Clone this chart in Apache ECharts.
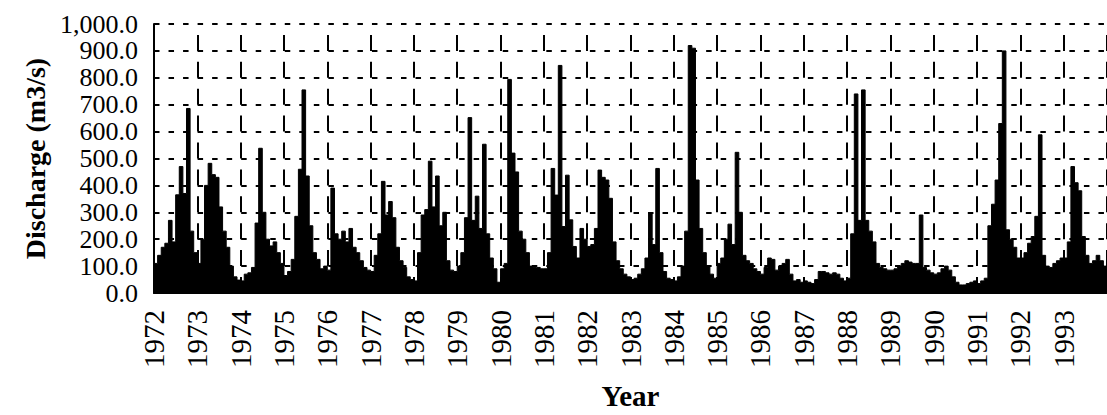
<!DOCTYPE html>
<html><head><meta charset="utf-8">
<script src="https://cdn.jsdelivr.net/npm/echarts@6/dist/echarts.min.js"></script>
<style>html,body{margin:0;padding:0;background:#fff}#c{width:1107px;height:415px}</style>
</head><body><div id="c"></div>
<script>
// Monthly discharge (m3/s), Jan..Dec
const years = [1972,1973,1974,1975,1976,1977,1978,1979,1980,1981,1982,1983,1984,1985,1986,1987,1988,1989,1990,1991,1992,1993];
const d1972 = [110,140,170,185,270,190,365,470,370,686,230,150];
const d1973 = [110,200,400,482,440,430,320,230,170,100,60,48];
const d1974 = [45,70,75,95,260,538,300,200,175,190,150,110];
const d1975 = [65,80,125,285,460,755,435,250,150,125,90,100];
const d1976 = [85,390,220,200,230,190,240,170,150,120,95,85];
const d1977 = [80,140,220,415,290,340,280,170,120,95,60,50];
const d1978 = [45,150,290,310,490,320,435,250,300,120,85,80];
const d1979 = [100,150,280,652,270,360,240,553,220,130,90,40];
const d1980 = [90,110,794,520,450,230,200,150,100,95,95,90];
const d1981 = [90,150,463,364,846,247,438,272,173,130,240,200];
const d1982 = [173,180,240,457,430,420,352,190,120,90,70,60];
const d1983 = [50,55,70,90,130,296,180,463,150,80,55,50];
const d1984 = [45,60,100,230,920,910,420,240,150,100,70,55];
const d1985 = [110,130,200,256,180,523,300,140,120,110,90,80];
const d1986 = [70,95,130,125,85,100,110,125,70,45,50,40];
const d1987 = [45,40,35,50,80,80,75,70,75,70,55,45];
const d1988 = [55,220,740,270,755,270,230,190,110,95,90,85];
const d1989 = [85,90,100,110,120,115,110,110,290,95,85,75];
const d1990 = [70,75,90,100,85,60,40,30,30,35,40,45];
const d1991 = [35,45,55,250,330,420,630,900,235,200,170,130];
const d1992 = [130,150,185,210,285,588,140,100,95,110,120,130];
const d1993 = [130,190,470,410,380,210,140,110,120,140,120,100];
const monthly = [d1972,d1973,d1974,d1975,d1976,d1977,d1978,d1979,d1980,d1981,d1982,d1983,d1984,d1985,d1986,d1987,d1988,d1989,d1990,d1991,d1992,d1993];
const yTicks = [0,100,200,300,400,500,600,700,800,900,1000];

const points = [];
monthly.forEach((arr, i) => arr.forEach((v, m) => points.push([years[i] + m / 12, v])));
points.push([years[years.length - 1] + 1, monthly[monthly.length - 1][11]]);

const serif = 'Liberation Serif';
function fmt(v){ const s = v.toFixed(1); const [a,b] = s.split('.'); return a.replace(/\B(?=(\d{3})+(?!\d))/g, ',') + '.' + b; }

const chart = echarts.init(document.getElementById('c'), null, {renderer:'svg'});
chart.setOption({
  animation: false,
  backgroundColor: '#fff',
  grid: {left: 154, right: -7, top: 24, bottom: 122, containLabel: false},
  xAxis: {
    type: 'value', min: years[0], max: years[years.length-1] + 1, interval: 1,
    axisLine: {show: true, lineStyle: {color: '#000', width: 2}},
    axisTick: {show: false},
    axisLabel: {rotate: 90, margin: 17, color: '#000', fontFamily: serif, fontSize: 29,
      formatter: v => years.indexOf(v) >= 0 ? String(v) : ''},
    splitLine: {show: true, lineStyle: {color: '#000', width: 2, type: [16, 10.9], dashOffset: 16}},
    name: 'Year', nameLocation: 'middle', nameGap: 88,
    nameTextStyle: {color: '#000', fontFamily: serif, fontSize: 29, fontWeight: 'bold'}
  },
  yAxis: {
    type: 'value', min: yTicks[0], max: yTicks[yTicks.length-1], interval: 100,
    axisLine: {show: true, lineStyle: {color: '#000', width: 2}},
    axisTick: {show: true, inside: true, length: 4, lineStyle: {color: '#000', width: 1.5}},
    axisLabel: {margin: 16, color: '#000', fontFamily: serif, fontSize: 26, lineHeight: 26, formatter: fmt},
    splitLine: {show: true, lineStyle: {color: '#000', width: 2, type: [5.5, 9.03]}},
    name: 'Discharge (m3/s)', nameLocation: 'middle', nameGap: 94, nameRotate: 90,
    nameTextStyle: {color: '#000', fontFamily: serif, fontSize: 28, fontWeight: 'bold'}
  },
  series: [{
    type: 'line', step: 'end', symbol: 'none', data: points,
    lineStyle: {color: '#000', width: 1}, areaStyle: {color: '#000', opacity: 1}, z: 3
  }]
});
</script></body></html>
